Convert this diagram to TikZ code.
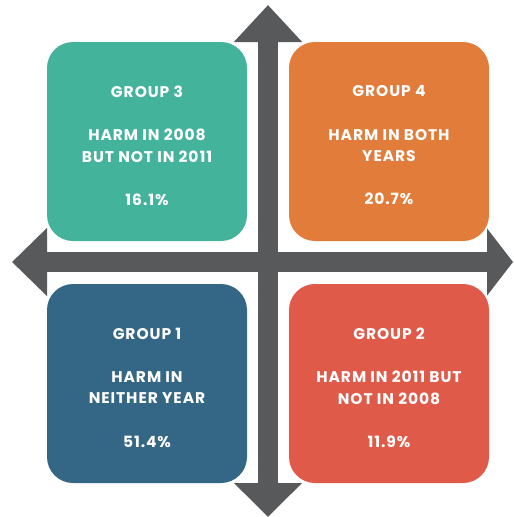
\documentclass[tikz,border=0pt]{standalone}
\usepackage{fontspec}
\setmainfont{Poppins}[LetterSpace=6]
\usepackage{tikz}
\usetikzlibrary{arrows.meta}

\definecolor{grpteal}{RGB}{68,179,155}
\definecolor{grporange}{RGB}{226,124,59}
\definecolor{grpblue}{RGB}{52,102,133}
\definecolor{grpred}{RGB}{224,90,74}
\definecolor{axisgrey}{RGB}{88,89,91}

\begin{document}
\begin{tikzpicture}[x=1pt,y=-1pt,
    quad/.style={rounded corners=26pt,minimum width=200pt,minimum height=199pt,inner sep=0pt},
    grptext/.style={text=white,align=center,font=\bfseries\fontsize{15.5}{21.6}\selectfont},
    axis/.style={draw=axisgrey,line width=20pt}]
  \useasboundingbox (0,0) rectangle (514,517);
  % the two axes
  \coordinate (west) at (12,262);
  \coordinate (east) at (513,262);
  \coordinate (north) at (268,5);
  \coordinate (south) at (268,517);
  \draw[axis,{Triangle[length=35pt,width=66pt]}-{Triangle[length=26pt,width=66pt]}] (west)--(east);
  \draw[axis,{Triangle[length=37pt,width=66pt]}-{Triangle[length=34pt,width=66pt]}] (north)--(south);
  % the four groups
  \node[quad,fill=grpteal] (g3) at (147,141.5) {};
  \node[quad,fill=grporange] (g4) at (389,141.5) {};
  \node[quad,fill=grpblue] (g1) at (147,383.5) {};
  \node[quad,fill=grpred] (g2) at (389,383.5) {};
  \node[grptext] (t3) at ([yshift=-4pt]g3.center) {GROUP 3\\[21.6pt]HARM IN 2008\\BUT NOT IN 2011\\[21.6pt]16.1\%};
  \node[grptext] (t4) at ([yshift=-4pt]g4.center) {GROUP 4\\[21.6pt]HARM IN BOTH\\YEARS\\[21.6pt]20.7\%};
  \node[grptext] (t1) at ([yshift=-4pt]g1.center) {GROUP 1\\[21.6pt]HARM IN\\NEITHER YEAR\\[21.6pt]51.4\%};
  \node[grptext] (t2) at ([yshift=-4pt]g2.center) {GROUP 2\\[21.6pt]HARM IN 2011 BUT\\NOT IN 2008\\[21.6pt]11.9\%};
\end{tikzpicture}
\end{document}
